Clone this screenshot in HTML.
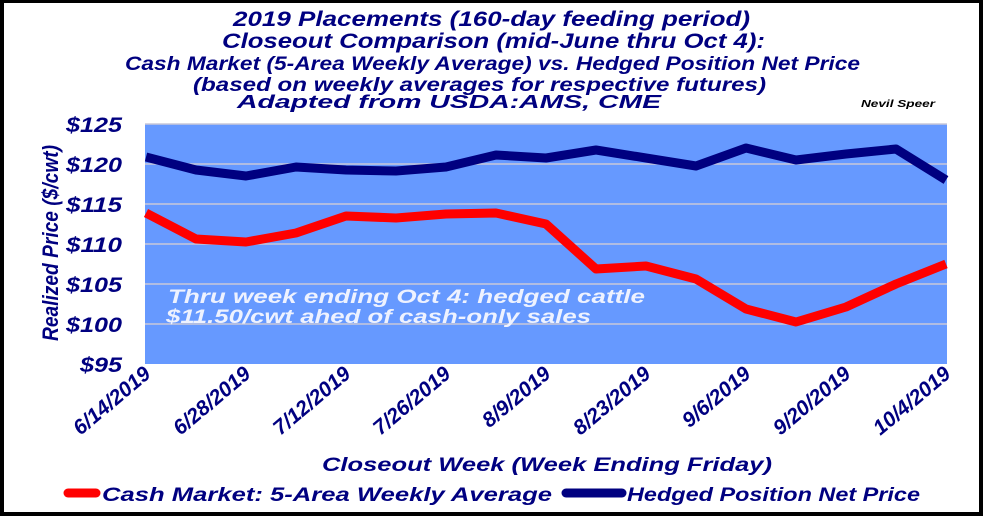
<!DOCTYPE html>
<html><head><style>
body{margin:0;background:#000;}
.w{position:absolute;left:4px;top:3px;width:975px;height:509px;background:#fff;}
text{font-family:"Liberation Sans",sans-serif;font-weight:bold;font-style:italic;fill:#000080;}
text.a{fill:#eef2ff;}
text.n{fill:#000;}
</style></head><body>
<div class="w"></div>
<svg width="983" height="516" style="position:absolute;left:0;top:0">
<g font-size="21">
<text x="233" y="26" textLength="517" lengthAdjust="spacingAndGlyphs">2019 Placements (160-day feeding period)</text>
<text x="222" y="48" textLength="543" lengthAdjust="spacingAndGlyphs">Closeout Comparison (mid-June thru Oct 4):</text>
<text x="125" y="70" font-size="19" textLength="735" lengthAdjust="spacingAndGlyphs">Cash Market (5-Area Weekly Average) vs. Hedged Position Net Price</text>
<text x="193" y="91" font-size="19" textLength="573" lengthAdjust="spacingAndGlyphs">(based on weekly averages for respective futures)</text>
<text x="237" y="108" font-size="18" textLength="424" lengthAdjust="spacingAndGlyphs">Adapted from USDA:AMS, CME</text>
</g>
<text class="n" x="861" y="107" font-size="10" textLength="74" lengthAdjust="spacingAndGlyphs">Nevil Speer</text>
<rect x="145" y="124" width="802" height="240" fill="#6699FF"/>
<g stroke="#c8c8d8" stroke-width="1.5">
<line x1="145" x2="947" y1="124" y2="124"/><line x1="145" x2="947" y1="164" y2="164"/><line x1="145" x2="947" y1="204" y2="204"/><line x1="145" x2="947" y1="244" y2="244"/><line x1="145" x2="947" y1="284" y2="284"/><line x1="145" x2="947" y1="324" y2="324"/>
</g>
<g font-size="21" text-anchor="end">
<text x="122" y="132" textLength="56" lengthAdjust="spacingAndGlyphs">$125</text><text x="122" y="172" textLength="56" lengthAdjust="spacingAndGlyphs">$120</text><text x="122" y="212" textLength="56" lengthAdjust="spacingAndGlyphs">$115</text><text x="122" y="252" textLength="56" lengthAdjust="spacingAndGlyphs">$110</text><text x="122" y="292" textLength="56" lengthAdjust="spacingAndGlyphs">$105</text><text x="122" y="332" textLength="56" lengthAdjust="spacingAndGlyphs">$100</text><text x="122" y="372" textLength="42" lengthAdjust="spacingAndGlyphs">$95</text>
</g>
<text transform="translate(58,243) rotate(-90)" text-anchor="middle" font-size="22" textLength="196" lengthAdjust="spacingAndGlyphs">Realized Price ($/cwt)</text>
<g font-size="19">
<text class="a" x="168" y="303" textLength="477" lengthAdjust="spacingAndGlyphs">Thru week ending Oct 4:  hedged cattle</text>
<text class="a" x="166" y="323" textLength="425" lengthAdjust="spacingAndGlyphs">$11.50/cwt ahed of cash-only sales</text>
</g>
<polyline fill="none" stroke="#000080" stroke-width="9" stroke-linejoin="round" points="146,157 196,170 246,176 296,167 346,170 396,171 446,167 496,155 546,158 596,150 646,158 696,166 746,148 796,160 846,154 896,149 946,180"/>
<polyline fill="none" stroke="#ff0000" stroke-width="9" stroke-linejoin="round" points="146,213 196,239 246,242 296,233 346,216 396,218 446,214 496,213 546,224 596,269 646,266 696,279 746,309 796,322 846,307 896,284 946,264"/>
<g font-size="21" text-anchor="end">
<text transform="translate(152,376) rotate(-40)">6/14/2019</text>
<text transform="translate(252,376) rotate(-40)">6/28/2019</text>
<text transform="translate(352,376) rotate(-40)">7/12/2019</text>
<text transform="translate(452,376) rotate(-40)">7/26/2019</text>
<text transform="translate(552,376) rotate(-40)">8/9/2019</text>
<text transform="translate(652,376) rotate(-40)">8/23/2019</text>
<text transform="translate(752,376) rotate(-40)">9/6/2019</text>
<text transform="translate(852,376) rotate(-40)">9/20/2019</text>
<text transform="translate(952,376) rotate(-40)">10/4/2019</text>
</g>
<text x="322" y="471" font-size="19" textLength="450" lengthAdjust="spacingAndGlyphs">Closeout Week (Week Ending Friday)</text>
<line x1="68" x2="96" y1="493" y2="493" stroke="#ff0000" stroke-width="9" stroke-linecap="round"/>
<text x="102" y="501" font-size="19" textLength="450" lengthAdjust="spacingAndGlyphs">Cash Market: 5-Area Weekly Average</text>
<line x1="566" x2="622" y1="493" y2="493" stroke="#000080" stroke-width="9" stroke-linecap="round"/>
<text x="627" y="501" font-size="19" textLength="293" lengthAdjust="spacingAndGlyphs">Hedged Position Net Price</text>
</svg>
</body></html>
